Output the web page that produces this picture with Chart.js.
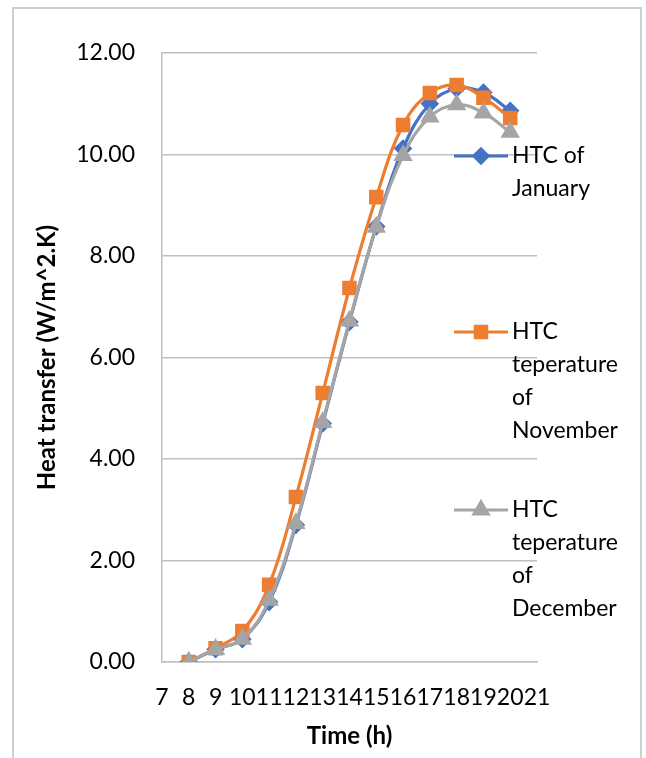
<!DOCTYPE html>
<html>
<head>
<meta charset="utf-8">
<script src="https://cdn.jsdelivr.net/npm/chart.js@4.4.1/dist/chart.umd.min.js"></script>
<style>
  body { margin: 0; background: #ffffff; }
  #frame {
    position: absolute; left: 12px; top: 7px; width: 630px; height: 780px;
    border: 2px solid #cfcfcf; box-sizing: border-box;
  }
  #htcChart { position: absolute; left: 0; top: 0; }
</style>
</head>
<body>
<div id="frame"></div>
<canvas id="htcChart" width="646" height="758"></canvas>
<script>
// Time of day (h)
const hours = [8, 9, 10, 11, 12, 13, 14, 15, 16, 17, 18, 19, 20];

// Heat transfer coefficient (W/m^2.K) per month
const htcJanuary  = [0.00, 0.25, 0.45, 1.18, 2.70, 4.70, 6.70, 8.58, 10.12, 11.00, 11.30, 11.22, 10.86];
const htcNovember = [0.00, 0.27, 0.61, 1.52, 3.25, 5.30, 7.37, 9.16, 10.58, 11.21, 11.37, 11.12, 10.72];
const htcDecember = [0.00, 0.25, 0.45, 1.22, 2.73, 4.72, 6.72, 8.57, 9.98, 10.74, 10.98, 10.82, 10.44];

// Legend labels (wrapped the way the original shows them)
const seriesNames = [
    ['HTC of', 'January'],
    ['HTC', 'teperature', 'of', 'November'],
    ['HTC', 'teperature', 'of', 'December'],
];

const xTicks = [7, 8, 9, 10, 11, 12, 13, 14, 15, 16, 17, 18, 19, 20, 21];

const fontFamily = 'Lato, "Open Sans", sans-serif';
const colors = ['#4472C4', '#ED7D31', '#A5A5A5'];
const markers = ['rectRot', 'rect', 'triangle'];
const markerSize = [7, 8, 8];

function toPoints(values) {
    return values.map((v, i) => ({ x: hours[i], y: v }));
}

// Draw the legend on the right, overlapping the plot like Excel does
const sideLegend = {
    id: 'sideLegend',
    afterDraw(chart) {
        const ctx = chart.ctx;
        const tops = [156, 332, 510];
        const lineH = 33;
        ctx.save();
        chart.data.datasets.forEach((ds, i) => {
            const y = tops[i];
            ctx.strokeStyle = ds.borderColor;
            ctx.lineWidth = 3.2;
            ctx.beginPath();
            ctx.moveTo(454, y);
            ctx.lineTo(508, y);
            ctx.stroke();
            Chart.helpers.drawPoint(ctx, {
                pointStyle: ds.pointStyle,
                radius: ds.pointRadius,
                rotation: 0,
                borderWidth: 1,
            }, 481, y);
            ctx.fillStyle = ds.borderColor;
            ctx.fill();
            ctx.fillStyle = '#000000';
            ctx.font = '23px ' + fontFamily;
            ctx.textBaseline = 'middle';
            ctx.textAlign = 'left';
            seriesNames[i].forEach((line, j) => {
                ctx.fillText(line, 512, y + j * lineH);
            });
        });
        ctx.restore();
    }
};

const datasets = [htcJanuary, htcNovember, htcDecember].map((values, i) => ({
    label: seriesNames[i].join(' '),
    data: toPoints(values),
    borderColor: colors[i],
    backgroundColor: colors[i],
    pointBackgroundColor: colors[i],
    pointBorderColor: colors[i],
    pointStyle: markers[i],
    pointRadius: markerSize[i],
    pointHoverRadius: markerSize[i],
    borderWidth: 3.2,
    tension: 0.4,
    fill: false,
    order: 3 - i, // December on top, like the original
}));

const ctx = document.getElementById('htcChart').getContext('2d');
new Chart(ctx, {
    type: 'line',
    data: { datasets: datasets },
    options: {
        responsive: false,
        animation: false,
        layout: { padding: { top: 53, right: 109, left: 0, bottom: 0 } },
        plugins: {
            legend: { display: false },
            tooltip: { enabled: false },
        },
        scales: {
            x: {
                type: 'linear',
                min: 7,
                max: 21,
                afterBuildTicks: (scale) => { scale.ticks = xTicks.map(v => ({ value: v })); },
                afterFit: (scale) => { scale.height = 96; },
                grid: { display: false, drawTicks: false },
                border: { display: true, color: '#bfbfbf', width: 1.5 },
                ticks: {
                    autoSkip: false,
                    maxRotation: 0,
                    padding: 22,
                    color: '#000000',
                    font: { family: fontFamily, size: 23 },
                },
                title: {
                    display: true,
                    text: 'Time (h)',
                    color: '#000000',
                    font: { family: fontFamily, size: 24, weight: 'bold' },
                    padding: { top: 0, bottom: 7 },
                },
            },
            y: {
                min: 0,
                max: 12,
                afterFit: (scale) => { scale.width = 162; },
                grid: { color: '#bfbfbf', lineWidth: 1.5, drawTicks: false },
                border: { display: true, color: '#bfbfbf', width: 1.5 },
                ticks: {
                    stepSize: 2,
                    padding: 27,
                    color: '#000000',
                    font: { family: fontFamily, size: 23 },
                    callback: (v) => v.toFixed(2),
                },
                title: {
                    display: true,
                    text: 'Heat transfer (W/m^2.K)',
                    color: '#000000',
                    font: { family: fontFamily, size: 24, weight: 'bold' },
                    padding: { top: 33, bottom: 0 },
                },
            },
        },
    },
    plugins: [sideLegend],
});
</script>
</body>
</html>
